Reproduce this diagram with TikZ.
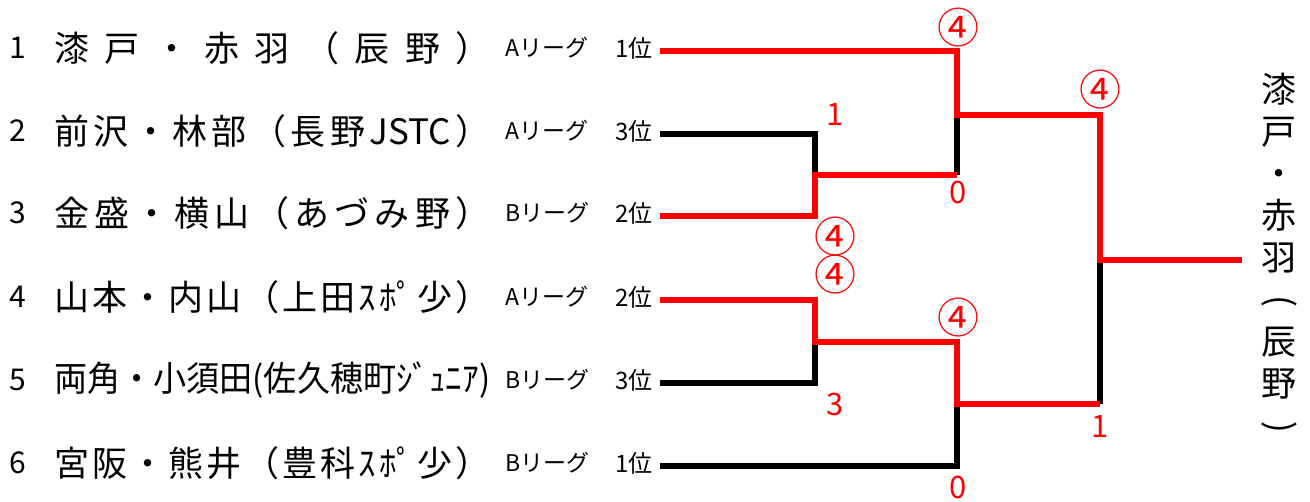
\documentclass[tikz,border=0pt]{standalone}
\usepackage{fontspec}
\usepackage{graphicx}
\setmainfont{Noto Sans CJK JP}
\newcommand{\namebox}[1]{\resizebox{436pt}{\height}{#1}}
\begin{document}
\begin{tikzpicture}[x=1pt,y=-1pt,
  win/.style={draw=red,line width=6pt,line join=miter},
  lose/.style={draw=black,line width=6pt,line join=miter},
  num/.style={font=\fontsize{30}{30}\selectfont,anchor=center,inner sep=0pt},
  team/.style={font=\fontsize{35}{35}\selectfont,anchor=west,inner sep=0pt},
  league/.style={font=\fontsize{23}{23}\selectfont,anchor=west,inner sep=0pt},
  rank/.style={font=\fontsize{24}{24}\selectfont,anchor=east,inner sep=0pt},
  score/.style={font=\fontsize{31}{31}\selectfont,text=red,anchor=center,inner sep=0pt},
  circ/.style={font=\fontsize{42}{42}\selectfont,text=red,anchor=center,inner sep=0pt},
  champ/.style={font=\fontsize{35}{42}\selectfont,align=center,anchor=center,inner sep=0pt}]
\useasboundingbox (0,0) rectangle (1310,502);
% row numbers
\node[num] (k1) at (18,48) {1};
\node[num] (k2) at (18,131) {2};
\node[num] (k3) at (18,213) {3};
\node[num] (k4) at (18,297) {4};
\node[num] (k5) at (18,380) {5};
\node[num] (k6) at (18,463) {6};
% team names
\node[team] (t1) at (54,48) {\makebox[436pt][s]{漆\hfill 戸\hfill ・\hfill 赤\hfill 羽\hfill （\hfill 辰\hfill 野\hfill ）}};
\node[team] (t2) at (54,131) {\makebox[436pt][s]{前\hfill 沢\hfill ・\hfill 林\hfill 部\hfill （\hfill 長\hfill 野\hfill JSTC\hfill ）}};
\node[team] (t3) at (54,213) {\makebox[436pt][s]{金\hfill 盛\hfill ・\hfill 横\hfill 山\hfill （\hfill あ\hfill づ\hfill み\hfill 野\hfill ）}};
\node[team] (t4) at (54,297) {\makebox[436pt][s]{山\hfill 本\hfill ・\hfill 内\hfill 山\hfill （\hfill 上\hfill 田\hfill ｽ\hfill ﾎﾟ\hfill 少\hfill ）}};
\node[team] (t5) at (54,380) {\namebox{両角・小須田(佐久穂町ｼﾞｭﾆｱ)}};
\node[team] (t6) at (54,463) {\makebox[436pt][s]{宮\hfill 阪\hfill ・\hfill 熊\hfill 井\hfill （\hfill 豊\hfill 科\hfill ｽ\hfill ﾎﾟ\hfill 少\hfill ）}};
% league and rank
\node[league] (g1) at (505,48) {Aリーグ};
\node[league] (g2) at (505,131) {Aリーグ};
\node[league] (g3) at (505,213) {Bリーグ};
\node[league] (g4) at (505,297) {Aリーグ};
\node[league] (g5) at (505,380) {Bリーグ};
\node[league] (g6) at (505,463) {Bリーグ};
\node[rank] (p1) at (653,48) {1位};
\node[rank] (p2) at (653,131) {3位};
\node[rank] (p3) at (653,213) {2位};
\node[rank] (p4) at (653,297) {2位};
\node[rank] (p5) at (653,380) {3位};
\node[rank] (p6) at (653,463) {1位};
% bracket coordinates
\coordinate (e1) at (660,51);
\coordinate (e2) at (660,134);
\coordinate (e3) at (660,216);
\coordinate (e4) at (660,300);
\coordinate (e5) at (660,383);
\coordinate (e6) at (660,466);
\coordinate (a2) at (815,134);
\coordinate (a3) at (815,216);
\coordinate (am) at (815,175);
\coordinate (c1) at (957,51);
\coordinate (cm) at (957,115);
\coordinate (ca) at (957,175);
\coordinate (b4) at (815,300);
\coordinate (b5) at (815,383);
\coordinate (bm) at (815,342);
\coordinate (d1) at (957,342);
\coordinate (dm) at (957,404);
\coordinate (d6) at (957,466);
\coordinate (f1) at (1100,115);
\coordinate (fm) at (1100,260);
\coordinate (f2) at (1100,404);
\coordinate (w) at (1242,260);
% losing lines
\draw[lose] (e2) -- (a2) -- (am);
\draw[lose] (cm) -- (ca);
\draw[lose] (bm) -- (b5) -- (e5);
\draw[lose] (dm) -- (d6) -- (e6);
\draw[lose] (fm) -- (f2);
% winning lines
\draw[win] (e3) -- (a3) -- (am) -- (ca);
\draw[win] (e1) -- (c1) -- (cm) -- (f1) -- (fm) -- (w);
\draw[win] (e4) -- (b4) -- (bm) -- (d1) -- (dm) -- (f2);
% scores
\node[score] (s1) at (835,114) {1};
\node[circ] (s2) at (835,237) {④};
\node[score] (s3) at (958,192) {0};
\node[circ] (s4) at (958,28) {④};
\node[circ] (s5) at (1100,90) {④};
\node[circ] (s6) at (835,275) {④};
\node[score] (s7) at (835,404) {3};
\node[circ] (s8) at (958,318) {④};
\node[score] (s9) at (958,487) {0};
\node[score] (s10) at (1100,426) {1};
% champion
\node[champ] (ch) at (1279,256) {漆\\戸\\・\\赤\\羽\\\rotatebox[origin=c]{-90}{(}\\辰\\野\\\rotatebox[origin=c]{-90}{)}};
\end{tikzpicture}
\end{document}
